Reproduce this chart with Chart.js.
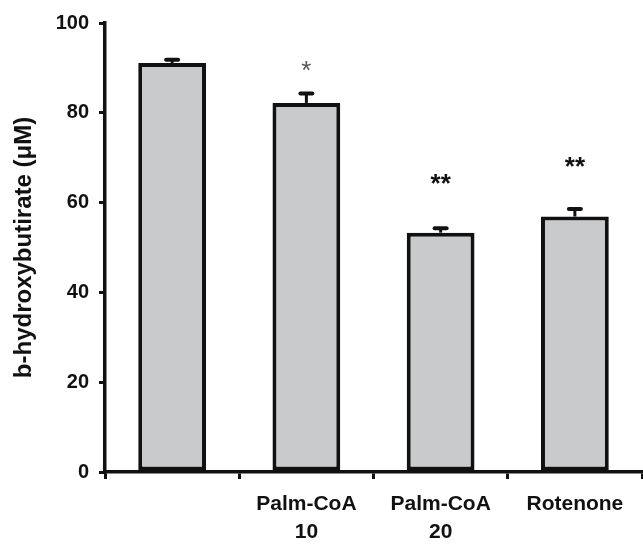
<!DOCTYPE html>
<html>
<head>
<meta charset="utf-8">
<script src="https://cdn.jsdelivr.net/npm/chart.js@4"></script>
<style>
  html, body { margin: 0; padding: 0; background: #fff; }
  #wrap { width: 643px; height: 544px; }
</style>
</head>
<body>
<div id="wrap"><canvas id="chart" width="643" height="544"></canvas></div>
<script>
// values
const categories = ['', ['Palm-CoA', '10'], ['Palm-CoA', '20'], 'Rotenone'];
const means = [91.1, 82.2, 53.3, 56.9];
const errors = [0.7, 2.1, 1.0, 1.7];
const marks = ['', '*', '**', '**'];
const markLevels = [null, 90.4, 65.2, 69.1];

const FONT = '"Liberation Sans", Arial, Helvetica, sans-serif';
const INK = '#111';

// upper error bars with a rounded cap
const errorBars = {
  id: 'errorBars',
  afterDatasetsDraw(chart) {
    const ctx = chart.ctx;
    const y = chart.scales.y;
    const bars = chart.getDatasetMeta(0).data;
    ctx.save();
    ctx.strokeStyle = INK;
    bars.forEach((bar, i) => {
      const top = y.getPixelForValue(means[i]);
      const end = y.getPixelForValue(means[i] + errors[i]);
      ctx.lineWidth = 3;
      ctx.lineCap = 'butt';
      ctx.beginPath();
      ctx.moveTo(bar.x, top);
      ctx.lineTo(bar.x, end);
      ctx.stroke();
      ctx.lineWidth = 4;
      ctx.lineCap = 'round';
      ctx.beginPath();
      ctx.moveTo(bar.x - 6, end);
      ctx.lineTo(bar.x + 6, end);
      ctx.stroke();
    });
    ctx.restore();
  }
};

// significance asterisks
const starMarks = {
  id: 'starMarks',
  afterDraw(chart) {
    const ctx = chart.ctx;
    const y = chart.scales.y;
    const bars = chart.getDatasetMeta(0).data;
    ctx.save();
    ctx.textAlign = 'center';
    ctx.textBaseline = 'alphabetic';
    marks.forEach((m, i) => {
      if (!m) return;
      const double = m.length > 1;
      ctx.font = (double ? 'bold ' : '') + '26px ' + FONT;
      ctx.fillStyle = double ? INK : '#555';
      const tm = ctx.measureText(m);
      const cy = y.getPixelForValue(markLevels[i]);
      const base = cy + (tm.actualBoundingBoxAscent - tm.actualBoundingBoxDescent) / 2;
      ctx.fillText(m, bars[i].x, base);
    });
    ctx.restore();
  }
};

new Chart(document.getElementById('chart').getContext('2d'), {
  type: 'bar',
  data: {
    labels: categories,
    datasets: [{
      data: means,
      backgroundColor: '#c9cacc',
      borderColor: INK,
      borderWidth: 4,
      borderSkipped: false,
      categoryPercentage: 1,
      barPercentage: 0.505
    }]
  },
  options: {
    responsive: false,
    animation: false,
    layout: { padding: { top: 23, right: 1, bottom: 0, left: 0 } },
    plugins: {
      legend: { display: false },
      tooltip: { enabled: false }
    },
    scales: {
      x: {
        afterFit: s => { s.height = 72; },
        grid: { display: true, drawOnChartArea: false, offset: true, tickLength: 7, lineWidth: 3, color: INK },
        border: { display: true, width: 3.5, color: INK },
        ticks: {
          color: INK,
          padding: 11,
          maxRotation: 0,
          autoSkip: false,
          font: { family: FONT, size: 21, weight: 'bold', lineHeight: 1.35 }
        }
      },
      y: {
        min: 0,
        max: 100,
        afterFit: s => { s.width = 105; },
        grid: { display: true, drawOnChartArea: false, tickLength: 6, lineWidth: 3, color: INK },
        border: { display: true, width: 3.5, color: INK },
        ticks: {
          stepSize: 20,
          color: INK,
          padding: 10,
          font: { family: FONT, size: 20, weight: 'bold' }
        },
        title: {
          display: true,
          text: 'b-hydroxybutirate (\u03bcM)',
          color: INK,
          padding: { top: 10, bottom: 0 },
          font: { family: FONT, size: 24, weight: 'bold' }
        }
      }
    }
  },
  plugins: [errorBars, starMarks]
});
</script>
</body>
</html>
